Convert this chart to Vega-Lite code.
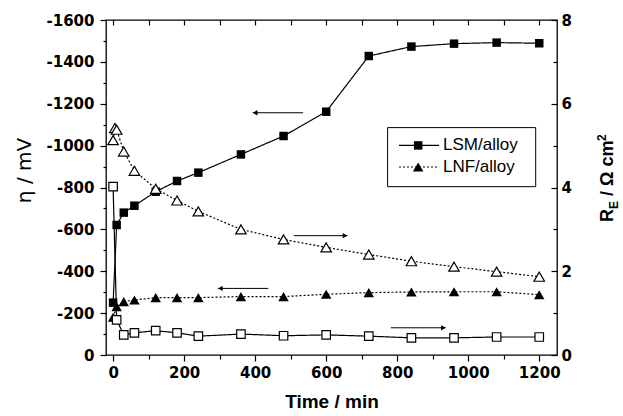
{
  "$schema": "https://vega.github.io/schema/vega-lite/v6.json",
  "width": 451,
  "height": 335,
  "autosize": "none",
  "padding": {"left": 106, "top": 20, "right": 66, "bottom": 61},
  "background": "white",
  "config": {
    "font": "Liberation Sans",
    "view": {"stroke": "black", "strokeWidth": 1.3},
    "axis": {"domain": false, "grid": false, "tickColor": "black", "tickWidth": 1.2, "labelColor": "black", "titleColor": "black", "labelFont": "DejaVu Sans", "titleFont": "Liberation Sans", "labelFontSize": 15, "labelFontWeight": "bold"}
  },
  "datasets": {
    "eta": [
      {"series": "LSM/alloy", "t": 0, "eta": -250}, {"series": "LSM/alloy", "t": 10, "eta": -621}, {"series": "LSM/alloy", "t": 30, "eta": -680}, {"series": "LSM/alloy", "t": 60, "eta": -713}, {"series": "LSM/alloy", "t": 120, "eta": -780}, {"series": "LSM/alloy", "t": 180, "eta": -831}, {"series": "LSM/alloy", "t": 240, "eta": -871}, {"series": "LSM/alloy", "t": 360, "eta": -958}, {"series": "LSM/alloy", "t": 480, "eta": -1046}, {"series": "LSM/alloy", "t": 600, "eta": -1162}, {"series": "LSM/alloy", "t": 720, "eta": -1428}, {"series": "LSM/alloy", "t": 840, "eta": -1473}, {"series": "LSM/alloy", "t": 960, "eta": -1487}, {"series": "LSM/alloy", "t": 1080, "eta": -1492}, {"series": "LSM/alloy", "t": 1200, "eta": -1489},
      {"series": "LNF/alloy", "t": 0, "eta": -180}, {"series": "LNF/alloy", "t": 10, "eta": -231}, {"series": "LNF/alloy", "t": 30, "eta": -255}, {"series": "LNF/alloy", "t": 60, "eta": -263}, {"series": "LNF/alloy", "t": 120, "eta": -274}, {"series": "LNF/alloy", "t": 180, "eta": -274}, {"series": "LNF/alloy", "t": 240, "eta": -274}, {"series": "LNF/alloy", "t": 360, "eta": -279}, {"series": "LNF/alloy", "t": 480, "eta": -279}, {"series": "LNF/alloy", "t": 600, "eta": -290}, {"series": "LNF/alloy", "t": 720, "eta": -298}, {"series": "LNF/alloy", "t": 840, "eta": -301}, {"series": "LNF/alloy", "t": 960, "eta": -302}, {"series": "LNF/alloy", "t": 1080, "eta": -302}, {"series": "LNF/alloy", "t": 1200, "eta": -288}
    ],
    "re": [
      {"series": "LSM/alloy", "t": 0, "re": 4.02}, {"series": "LSM/alloy", "t": 10, "re": 0.84}, {"series": "LSM/alloy", "t": 30, "re": 0.48}, {"series": "LSM/alloy", "t": 60, "re": 0.53}, {"series": "LSM/alloy", "t": 120, "re": 0.58}, {"series": "LSM/alloy", "t": 180, "re": 0.53}, {"series": "LSM/alloy", "t": 240, "re": 0.45}, {"series": "LSM/alloy", "t": 360, "re": 0.5}, {"series": "LSM/alloy", "t": 480, "re": 0.46}, {"series": "LSM/alloy", "t": 600, "re": 0.48}, {"series": "LSM/alloy", "t": 720, "re": 0.45}, {"series": "LSM/alloy", "t": 840, "re": 0.41}, {"series": "LSM/alloy", "t": 960, "re": 0.41}, {"series": "LSM/alloy", "t": 1080, "re": 0.43}, {"series": "LSM/alloy", "t": 1200, "re": 0.43},
      {"series": "LNF/alloy", "t": 0, "re": 5.13}, {"series": "LNF/alloy", "t": 5, "re": 5.42}, {"series": "LNF/alloy", "t": 10, "re": 5.38}, {"series": "LNF/alloy", "t": 30, "re": 4.86}, {"series": "LNF/alloy", "t": 60, "re": 4.4}, {"series": "LNF/alloy", "t": 120, "re": 3.97}, {"series": "LNF/alloy", "t": 180, "re": 3.69}, {"series": "LNF/alloy", "t": 240, "re": 3.43}, {"series": "LNF/alloy", "t": 360, "re": 3.0}, {"series": "LNF/alloy", "t": 480, "re": 2.76}, {"series": "LNF/alloy", "t": 600, "re": 2.57}, {"series": "LNF/alloy", "t": 720, "re": 2.4}, {"series": "LNF/alloy", "t": 840, "re": 2.24}, {"series": "LNF/alloy", "t": 960, "re": 2.11}, {"series": "LNF/alloy", "t": 1080, "re": 1.99}, {"series": "LNF/alloy", "t": 1200, "re": 1.87}
    ],
    "arrEta": [{"t1": 393, "t2": 535, "th": 400, "eta": -1157}, {"t1": 295, "t2": 437, "th": 302, "eta": -318}],
    "arrRe": [{"t1": 509, "t2": 660, "th": 653, "re": 2.85}, {"t1": 782, "t2": 937, "th": 930, "re": 0.65}],
    "legBox": [{"t1": 773, "t2": 1190, "e1": -1086, "e2": -804}],
    "legRows": [{"series": "LSM/alloy", "t1": 805, "t2": 918, "tm": 859, "tt": 929, "eta": -1001}, {"series": "LNF/alloy", "t1": 805, "t2": 918, "tm": 859, "tt": 929, "eta": -898}],
    "titleBig": [{"label": "R", "t": 1408, "re": 3.176}, {"label": "/ Ω cm", "t": 1408, "re": 3.797}],
    "titleSub": [{"label": "E", "t": 1408, "re": 3.487}],
    "titleSup": [{"label": "2", "t": 1408, "re": 5.11}]
  },
  "layer": [
    {
      "data": {"name": "eta"},
      "mark": {"type": "line", "color": "black", "strokeWidth": 1.2},
      "encoding": {
        "x": {"field": "t", "type": "quantitative", "scale": {"domain": [-20, 1250], "nice": false, "zero": false},
          "axis": {"orient": "bottom", "values": [0, 200, 400, 600, 800, 1000, 1200], "format": "d", "tickSize": 6, "labelPadding": 4, "labelFontWeight": "bold", "labelFontSize": 15, "title": "Time / min", "titleFontSize": 19, "titleFontWeight": "bold", "titlePadding": 12}},
        "y": {"field": "eta", "type": "quantitative", "scale": {"domain": [-1600, 0], "reverse": true, "nice": false, "zero": false},
          "axis": {"orient": "left", "values": [0, -200, -400, -600, -800, -1000, -1200, -1400, -1600], "tickSize": 6, "labelPadding": 6, "labelFontWeight": "bold", "labelFontSize": 15, "labelExpr": "datum.value < 0 ? '-' + abs(datum.value) : '0'", "title": "η / mV", "titleFont": "DejaVu Sans", "titleFontSize": 20, "titleFontWeight": "normal", "titlePadding": 12, "titleY": 150}},
        "strokeDash": {"field": "series", "type": "nominal", "scale": {"domain": ["LSM/alloy", "LNF/alloy"], "range": [[1, 0], [2, 2]]}, "legend": null}
      }
    },
    {
      "data": {"name": "eta"},
      "mark": {"type": "point", "filled": true, "color": "black", "opacity": 1},
      "encoding": {
        "x": {"field": "t", "type": "quantitative", "scale": {"domain": [-20, 1250], "nice": false, "zero": false}, "axis": null},
        "y": {"field": "eta", "type": "quantitative", "scale": {"domain": [-1600, 0], "reverse": true, "nice": false, "zero": false}, "axis": null},
        "shape": {"field": "series", "type": "nominal", "scale": {"domain": ["LSM/alloy", "LNF/alloy"], "range": ["square", "triangle-up"]}, "legend": null},
        "size": {"field": "series", "type": "ordinal", "scale": {"domain": ["LSM/alloy", "LNF/alloy"], "range": [72, 110]}, "legend": null}
      }
    },
    {
      "data": {"name": "arrEta"},
      "mark": {"type": "rule", "color": "black", "strokeWidth": 1},
      "encoding": {
        "x": {"field": "t1", "type": "quantitative", "scale": {"domain": [-20, 1250], "nice": false, "zero": false},
          "axis": {"orient": "bottom", "values": [100, 300, 500, 700, 900, 1100], "tickSize": 4, "labels": false, "title": null}},
        "x2": {"field": "t2"},
        "y": {"field": "eta", "type": "quantitative", "scale": {"domain": [-1600, 0], "reverse": true, "nice": false, "zero": false},
          "axis": {"orient": "left", "values": [-100, -300, -500, -700, -900, -1100, -1300, -1500], "tickSize": 3, "labels": false, "title": null}}
      }
    },
    {
      "data": {"name": "arrEta"},
      "mark": {"type": "point", "shape": "triangle-left", "filled": true, "color": "black", "opacity": 1, "size": 28},
      "encoding": {
        "x": {"field": "th", "type": "quantitative", "scale": {"domain": [-20, 1250], "nice": false, "zero": false}, "axis": null},
        "y": {"field": "eta", "type": "quantitative", "scale": {"domain": [-1600, 0], "reverse": true, "nice": false, "zero": false}, "axis": null}
      }
    },
    {
      "data": {"name": "re"},
      "mark": {"type": "line", "color": "black", "strokeWidth": 1.2},
      "encoding": {
        "x": {"field": "t", "type": "quantitative", "scale": {"domain": [-20, 1250], "nice": false, "zero": false},
          "axis": {"orient": "top", "values": [0, 100, 200, 300, 400, 500, 600, 700, 800, 900, 1000, 1100, 1200], "tickSize": -5, "labels": false, "title": null}},
        "y": {"field": "re", "type": "quantitative", "scale": {"domain": [0, 8], "nice": false, "zero": false},
          "axis": {"orient": "right", "values": [0, 2, 4, 6, 8], "tickSize": -6, "labelPadding": 10, "labelFontWeight": "bold", "labelFontSize": 15, "title": null}},
        "strokeDash": {"field": "series", "type": "nominal", "scale": {"domain": ["LSM/alloy", "LNF/alloy"], "range": [[1, 0], [2, 2]]}, "legend": null}
      }
    },
    {
      "data": {"name": "re"},
      "mark": {"type": "point", "filled": true, "fill": "white", "stroke": "black", "strokeWidth": 1.2, "opacity": 1},
      "encoding": {
        "x": {"field": "t", "type": "quantitative", "scale": {"domain": [-20, 1250], "nice": false, "zero": false}, "axis": null},
        "y": {"field": "re", "type": "quantitative", "scale": {"domain": [0, 8], "nice": false, "zero": false}, "axis": null},
        "shape": {"field": "series", "type": "nominal", "scale": {"domain": ["LSM/alloy", "LNF/alloy"], "range": ["square", "triangle-up"]}, "legend": null},
        "size": {"field": "series", "type": "ordinal", "scale": {"domain": ["LSM/alloy", "LNF/alloy"], "range": [72, 110]}, "legend": null}
      }
    },
    {
      "data": {"name": "arrRe"},
      "mark": {"type": "rule", "color": "black", "strokeWidth": 1},
      "encoding": {
        "x": {"field": "t1", "type": "quantitative", "scale": {"domain": [-20, 1250], "nice": false, "zero": false}, "axis": null},
        "x2": {"field": "t2"},
        "y": {"field": "re", "type": "quantitative", "scale": {"domain": [0, 8], "nice": false, "zero": false},
          "axis": {"orient": "right", "values": [1, 3, 5, 7], "tickSize": -4, "labels": false, "title": null}}
      }
    },
    {
      "data": {"name": "arrRe"},
      "mark": {"type": "point", "shape": "triangle-right", "filled": true, "color": "black", "opacity": 1, "size": 28},
      "encoding": {
        "x": {"field": "th", "type": "quantitative", "scale": {"domain": [-20, 1250], "nice": false, "zero": false}, "axis": null},
        "y": {"field": "re", "type": "quantitative", "scale": {"domain": [0, 8], "nice": false, "zero": false}, "axis": null}
      }
    },
    {
      "data": {"name": "legBox"},
      "mark": {"type": "rect", "fill": "white", "stroke": "black", "strokeWidth": 1},
      "encoding": {
        "x": {"field": "t1", "type": "quantitative", "scale": {"domain": [-20, 1250], "nice": false, "zero": false}, "axis": null},
        "x2": {"field": "t2"},
        "y": {"field": "e1", "type": "quantitative", "scale": {"domain": [-1600, 0], "reverse": true, "nice": false, "zero": false}, "axis": null},
        "y2": {"field": "e2"}
      }
    },
    {
      "data": {"name": "legRows"},
      "mark": {"type": "rule", "color": "black", "strokeWidth": 1.2},
      "encoding": {
        "x": {"field": "t1", "type": "quantitative", "scale": {"domain": [-20, 1250], "nice": false, "zero": false}, "axis": null},
        "x2": {"field": "t2"},
        "y": {"field": "eta", "type": "quantitative", "scale": {"domain": [-1600, 0], "reverse": true, "nice": false, "zero": false}, "axis": null},
        "strokeDash": {"field": "series", "type": "nominal", "scale": {"domain": ["LSM/alloy", "LNF/alloy"], "range": [[1, 0], [2, 2]]}, "legend": null}
      }
    },
    {
      "data": {"name": "legRows"},
      "mark": {"type": "point", "filled": true, "color": "black", "opacity": 1},
      "encoding": {
        "x": {"field": "tm", "type": "quantitative", "scale": {"domain": [-20, 1250], "nice": false, "zero": false}, "axis": null},
        "y": {"field": "eta", "type": "quantitative", "scale": {"domain": [-1600, 0], "reverse": true, "nice": false, "zero": false}, "axis": null},
        "shape": {"field": "series", "type": "nominal", "scale": {"domain": ["LSM/alloy", "LNF/alloy"], "range": ["square", "triangle-up"]}, "legend": null},
        "size": {"field": "series", "type": "ordinal", "scale": {"domain": ["LSM/alloy", "LNF/alloy"], "range": [72, 110]}, "legend": null}
      }
    },
    {
      "data": {"name": "legRows"},
      "mark": {"type": "text", "align": "left", "baseline": "middle", "fontSize": 17, "font": "Liberation Sans", "color": "black"},
      "encoding": {
        "x": {"field": "tt", "type": "quantitative", "scale": {"domain": [-20, 1250], "nice": false, "zero": false}, "axis": null},
        "y": {"field": "eta", "type": "quantitative", "scale": {"domain": [-1600, 0], "reverse": true, "nice": false, "zero": false}, "axis": null},
        "text": {"field": "series"}
      }
    },
    {
      "data": {"name": "titleBig"},
      "mark": {"type": "text", "align": "left", "baseline": "alphabetic", "angle": 270, "fontSize": 18, "fontWeight": "bold", "font": "Liberation Sans", "color": "black"},
      "encoding": {
        "x": {"field": "t", "type": "quantitative", "scale": {"domain": [-20, 1250], "nice": false, "zero": false}, "axis": null},
        "y": {"field": "re", "type": "quantitative", "scale": {"domain": [0, 8], "nice": false, "zero": false}, "axis": null},
        "text": {"field": "label"}
      }
    },
    {
      "data": {"name": "titleSub"},
      "mark": {"type": "text", "align": "left", "baseline": "alphabetic", "angle": 270, "dy": 5, "fontSize": 12, "fontWeight": "bold", "font": "Liberation Sans", "color": "black"},
      "encoding": {
        "x": {"field": "t", "type": "quantitative", "scale": {"domain": [-20, 1250], "nice": false, "zero": false}, "axis": null},
        "y": {"field": "re", "type": "quantitative", "scale": {"domain": [0, 8], "nice": false, "zero": false}, "axis": null},
        "text": {"field": "label"}
      }
    },
    {
      "data": {"name": "titleSup"},
      "mark": {"type": "text", "align": "left", "baseline": "alphabetic", "angle": 270, "dy": -7, "fontSize": 12, "fontWeight": "bold", "font": "Liberation Sans", "color": "black"},
      "encoding": {
        "x": {"field": "t", "type": "quantitative", "scale": {"domain": [-20, 1250], "nice": false, "zero": false}, "axis": null},
        "y": {"field": "re", "type": "quantitative", "scale": {"domain": [0, 8], "nice": false, "zero": false}, "axis": null},
        "text": {"field": "label"}
      }
    }
  ],
  "resolve": {"scale": {"y": "independent"}, "axis": {"x": "independent", "y": "independent"}}
}
